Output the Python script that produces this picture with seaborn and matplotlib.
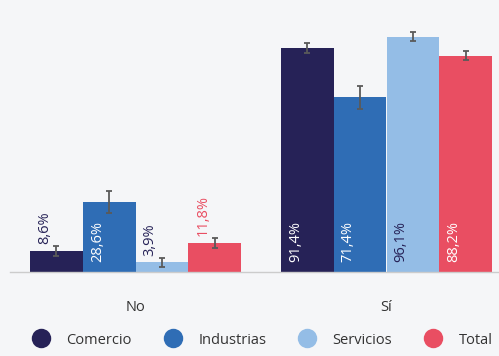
import matplotlib
matplotlib.use("Agg")
import matplotlib.pyplot as plt
from matplotlib.lines import Line2D
import numpy as np
import pandas as pd
import seaborn as sns

# Data
categories = ["No", "Sí"]
series = ["Comercio", "Industrias", "Servicios", "Total"]
comercio = [8.6, 91.4]
industrias = [28.6, 71.4]
servicios = [3.9, 96.1]
total = [11.8, 88.2]
comercio_err = [2.0, 2.0]
industrias_err = [4.5, 4.7]
servicios_err = [2.0, 2.0]
total_err = [2.0, 1.8]

values = [comercio, industrias, servicios, total]
errors = [comercio_err, industrias_err, servicios_err, total_err]
colors = ["#262257", "#2f6db5", "#94bde6", "#e94e62"]
bg = "#f5f6f8"
text_color = "#333333"

rows = []
for s, vals, errs in zip(series, values, errors):
    for c, v, e in zip(categories, vals, errs):
        rows.append({"respuesta": c, "sector": s, "pct": v, "err": e})
df = pd.DataFrame(rows)

sns.set_theme(style="white")
plt.rcParams["font.family"] = ["Open Sans", "DejaVu Sans"]

fig = plt.figure(figsize=(4.99, 3.56), dpi=100, facecolor=bg)
ax = fig.add_axes([10 / 499, 84 / 356, 489 / 499, 245 / 356])
ax.set_facecolor(bg)

sns.barplot(data=df, x="respuesta", y="pct", hue="sector", hue_order=series,
            order=categories, palette=colors, width=0.84, saturation=1,
            errorbar=None, linewidth=0, legend=False, ax=ax)

ax.set_xlim(-0.5, -0.5 + 489 / 251)
ax.set_ylim(0, 100)

bar_containers = list(ax.containers)
for i, container in enumerate(bar_containers):
    for j, bar in enumerate(container):
        v = values[i][j]
        e = errors[i][j]
        cx = bar.get_x() + bar.get_width() / 2
        ax.errorbar(cx, v, yerr=e, fmt="none", ecolor="#5a5a5a",
                    elinewidth=1.3, capsize=2.5, capthick=1.3, zorder=5)
        label = f"{v:.1f}%".replace(".", ",")
        inside = v > 20
        if series[i] == "Servicios":
            col = colors[0]
        elif inside:
            col = "white"
        else:
            col = colors[i]
        if inside:
            ax.annotate(label, xy=(cx, 0), xytext=(-8.5, 7),
                        textcoords="offset points", rotation=90,
                        ha="center", va="bottom", color=col, fontsize=10.5)
        else:
            ax.annotate(label, xy=(cx, v), xytext=(-8.5, 5),
                        textcoords="offset points", rotation=90,
                        ha="center", va="bottom", color=col, fontsize=10.5)

for side in ["top", "right", "left"]:
    ax.spines[side].set_visible(False)
ax.spines["bottom"].set_color("#cccccc")
ax.spines["bottom"].set_linewidth(1)
ax.set_yticks([])
ax.set_xlabel("")
ax.set_ylabel("")
ax.tick_params(axis="x", length=0, pad=20.5, labelsize=10.5, labelcolor=text_color)

handles = [Line2D([0], [0], marker="o", linestyle="none", markersize=14,
                  markerfacecolor=c, markeredgewidth=0) for c in colors]
fig.legend(handles, series, loc="center", bbox_to_anchor=(0.526, 16 / 356),
           ncol=4, frameon=False, fontsize=10.5, labelcolor=text_color,
           handletextpad=1.15, columnspacing=2.2, handlelength=1.2)

fig.savefig("out.png", dpi=100, facecolor=bg)
